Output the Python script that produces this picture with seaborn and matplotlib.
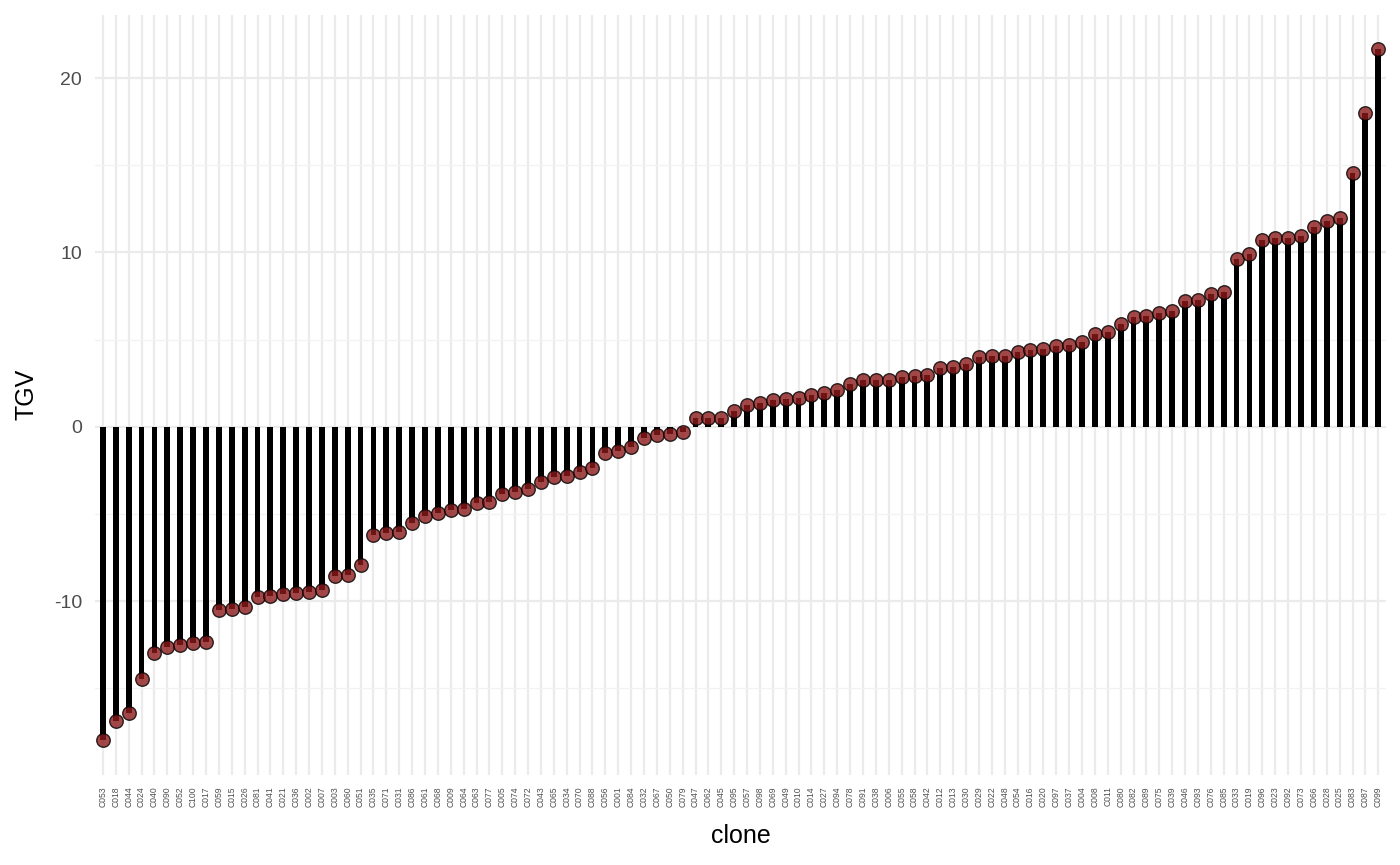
import pandas as pd
import matplotlib
matplotlib.use("Agg")
import matplotlib.pyplot as plt
import seaborn as sns
from matplotlib.ticker import MultipleLocator

# clones, sorted by TGV
clones = [
    "C053", "C018", "C044", "C024", "C040", "C090", "C052", "C100", "C017", "C059",
    "C015", "C026", "C081", "C041", "C021", "C036", "C002", "C007", "C003", "C060",
    "C051", "C035", "C071", "C031", "C086", "C061", "C068", "C009", "C064", "C063",
    "C077", "C005", "C074", "C072", "C043", "C065", "C034", "C070", "C088", "C056",
    "C001", "C084", "C032", "C067", "C050", "C079", "C047", "C062", "C045", "C095",
    "C057", "C098", "C069", "C049", "C010", "C014", "C027", "C094", "C078", "C091",
    "C038", "C006", "C055", "C058", "C042", "C012", "C013", "C030", "C029", "C022",
    "C048", "C054", "C016", "C020", "C097", "C037", "C004", "C008", "C011", "C080",
    "C082", "C089", "C075", "C039", "C046", "C093", "C076", "C085", "C033", "C019",
    "C096", "C023", "C092", "C073", "C066", "C028", "C025", "C083", "C087", "C099",
]

tgv = [
    -18.0, -16.9, -16.4, -14.5, -13.0, -12.65, -12.5, -12.4, -12.35, -10.5,
    -10.45, -10.35, -9.75, -9.7, -9.6, -9.55, -9.5, -9.35, -8.55, -8.5,
    -7.95, -6.2, -6.1, -6.05, -5.55, -5.15, -4.95, -4.8, -4.75, -4.35,
    -4.3, -3.85, -3.75, -3.6, -3.15, -2.9, -2.85, -2.6, -2.35, -1.5,
    -1.4, -1.15, -0.65, -0.5, -0.4, -0.3, 0.5, 0.5, 0.5, 0.9,
    1.25, 1.35, 1.55, 1.6, 1.65, 1.8, 1.95, 2.1, 2.45, 2.65,
    2.7, 2.7, 2.85, 2.9, 2.95, 3.35, 3.45, 3.6, 4.0, 4.05,
    4.05, 4.3, 4.4, 4.45, 4.6, 4.7, 4.85, 5.3, 5.45, 5.9,
    6.3, 6.35, 6.5, 6.65, 7.2, 7.25, 7.6, 7.75, 9.6, 9.9,
    10.7, 10.8, 10.8, 10.95, 11.45, 11.8, 11.95, 14.55, 18.0, 21.65,
]

df = pd.DataFrame({"clone": clones, "TGV": tgv})

sns.set_style("white")
plt.rcParams["font.family"] = ["Liberation Sans", "DejaVu Sans"]

fig = plt.figure(figsize=(14, 8.65), dpi=100)
ax = fig.add_axes([0.068, 0.104, 0.922, 0.879])

# stems
sns.barplot(data=df, x="clone", y="TGV", order=clones, color="black",
            width=0.45, saturation=1, linewidth=0, ax=ax, zorder=2)

# heads
sns.scatterplot(data=df, x="clone", y="TGV", color="#8B1A1A", alpha=0.8,
                edgecolor="black", linewidth=1.0, s=95, ax=ax, zorder=3)

# range with ggplot-like expansion
lo, hi = min(tgv), max(tgv)
pad = (hi - lo) * 0.05
ax.set_ylim(lo - pad, hi + pad)
ax.set_xlim(-0.6, len(clones) - 0.4)

ax.yaxis.set_major_locator(MultipleLocator(10))
ax.yaxis.set_minor_locator(MultipleLocator(5))
ax.grid(True, which="major", axis="both", color="#EBEBEB", linewidth=1.6, zorder=0)
ax.grid(True, which="minor", axis="y", color="#F2F2F2", linewidth=0.9, zorder=0)
ax.set_axisbelow(True)

for s in ax.spines.values():
    s.set_visible(False)

ax.tick_params(axis="both", which="both", length=0)
ax.tick_params(axis="y", labelsize=14, labelcolor="#4D4D4D", pad=9.5)
ax.tick_params(axis="x", labelsize=6.2, labelcolor="#4D4D4D", pad=8)
plt.setp(ax.get_xticklabels(), rotation=90)

ax.set_yticks([-10, 0, 10, 20])
ax.set_yticklabels(["-10", "0", "10", "20"])

ax.set_xlabel("clone", fontsize=18, color="black")
ax.set_ylabel("TGV", fontsize=18, color="black")
ax.xaxis.set_label_coords(0.5, -0.064)
ax.yaxis.set_label_coords(-0.044, 0.5)

fig.savefig("out.png", dpi=100)
